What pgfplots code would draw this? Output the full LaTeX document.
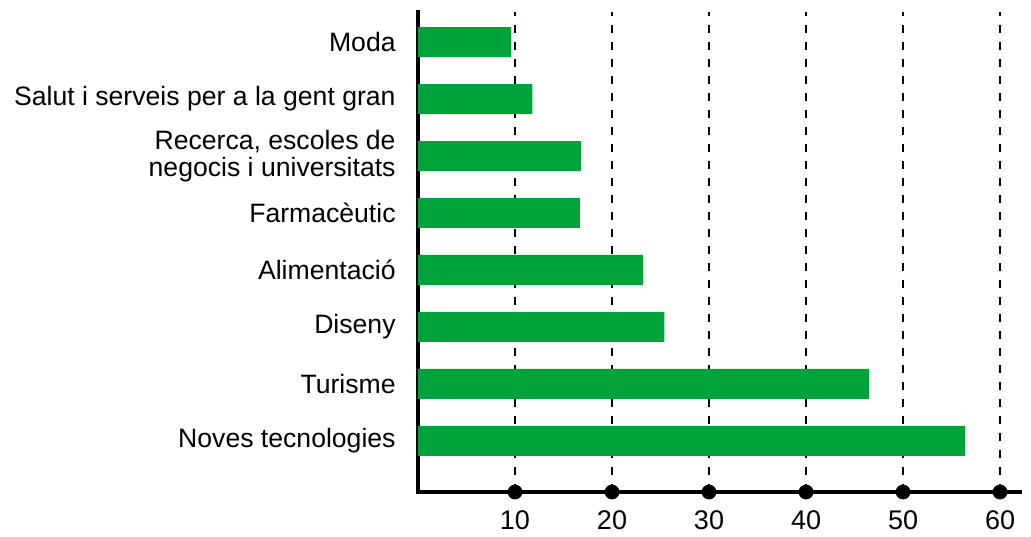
\documentclass[border=0pt]{standalone}
\usepackage{fontspec}
\setmainfont{Liberation Sans}
\usepackage{pgfplots}
\pgfplotsset{compat=1.18}
\definecolor{barg}{RGB}{0,163,58}
\begin{document}
\fontsize{13.3}{13.6}\selectfont
\begin{tikzpicture}
\begin{axis}[
 scale only axis, width=301pt, height=240pt,
 xmin=0, xmax=62.06, ymin=-0.9, ymax=7.53,
 axis x line=bottom, axis y line=left,
 axis line style={line width=2pt, -, line cap=rect},
 xtick={10,20,30,40,50,60}, major tick length=0,
 xmajorgrids,
 grid style={dash pattern=on 4pt off 4.5pt, line width=1pt, black},
 ytick={0,1,2,3,4,5,6,7},
 yticklabels={Noves tecnologies, Turisme, Diseny, Alimentació, Farmacèutic, {Recerca, escoles de\\negocis i universitats}, Salut i serveis per a la gent gran, Moda},
 yticklabel style={align=right, anchor=east, inner sep=0pt, xshift=-11pt, font=\fontsize{13.3}{13.8}\selectfont},
 xticklabel style={anchor=north, inner sep=0pt, yshift=-9pt, font=\fontsize{13.5}{13.6}\selectfont},
 /pgf/number format/assume math mode=true,
 clip=false,
 ]
\addplot[xbar, bar width=15pt, fill=barg, draw=none] coordinates {(56.4,0) (46.5,1) (25.4,2) (23.2,3) (16.7,4) (16.8,5) (11.8,6) (9.6,7)};
\addplot[only marks, mark=*, mark size=3.5pt, black] coordinates {(10,-0.9) (20,-0.9) (30,-0.9) (40,-0.9) (50,-0.9) (60,-0.9)};
\end{axis}
\pgfresetboundingbox
\path[use as bounding box] (-209pt,-22pt) rectangle (306.5pt,246pt);
\end{tikzpicture}
\end{document}
